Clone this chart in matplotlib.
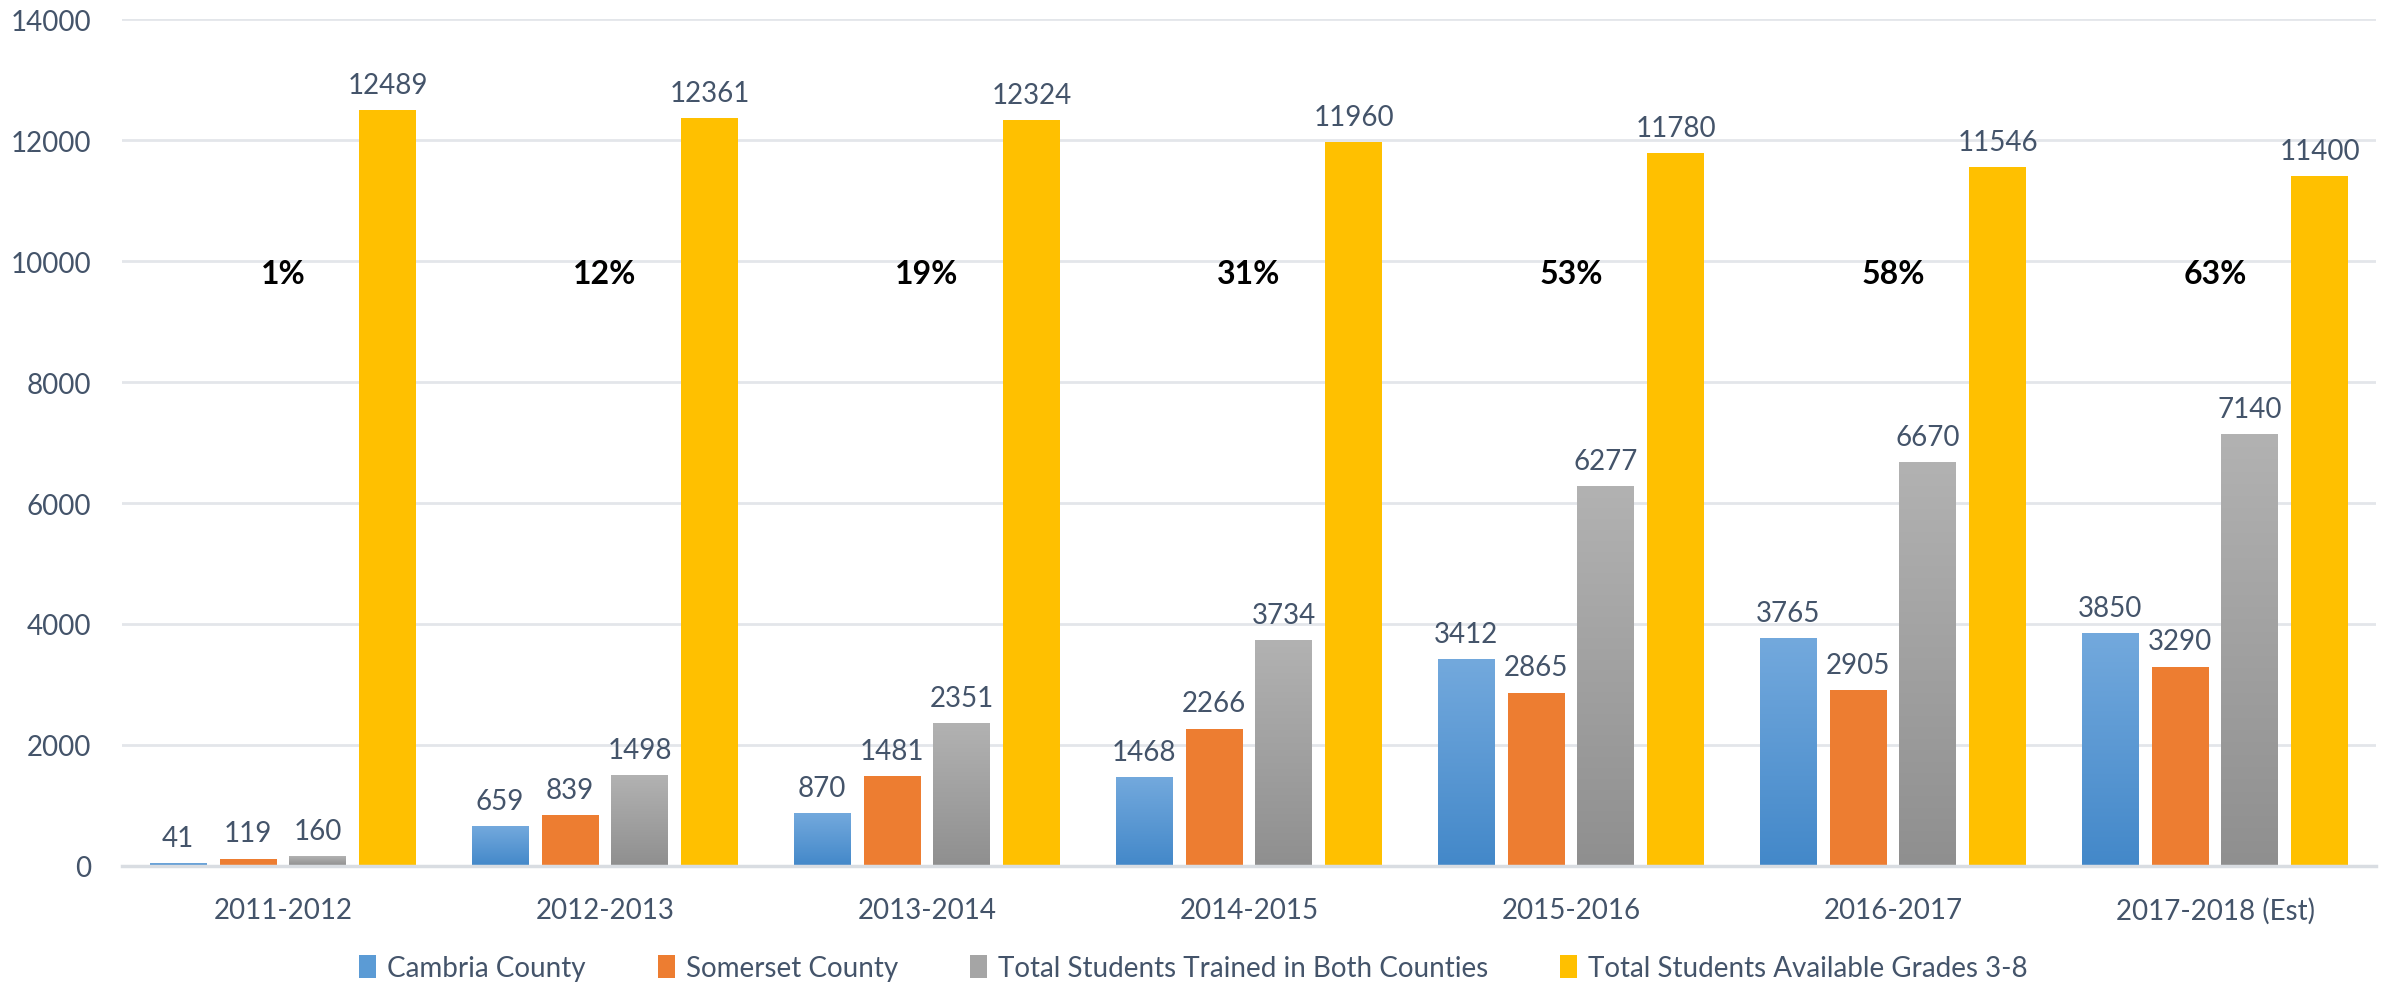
import numpy as np
import matplotlib
matplotlib.use("Agg")
import matplotlib.pyplot as plt
from matplotlib.patches import Patch
from matplotlib.colors import LinearSegmentedColormap

plt.rcParams["font.family"] = ["Lato", "DejaVu Sans"]

years = ["2011-2012", "2012-2013", "2013-2014", "2014-2015",
         "2015-2016", "2016-2017", "2017-2018 (Est)"]
cambria = [41, 659, 870, 1468, 3412, 3765, 3850]
somerset = [119, 839, 1481, 2266, 2865, 2905, 3290]
trained = [160, 1498, 2351, 3734, 6277, 6670, 7140]
available = [12489, 12361, 12324, 11960, 11780, 11546, 11400]
percents = ["1%", "12%", "19%", "31%", "53%", "58%", "63%"]

series_names = ["Cambria County", "Somerset County",
                "Total Students Trained in Both Counties",
                "Total Students Available Grades 3-8"]

text_col = "#44546A"
grid_col = "#E3E6EA"

# gradient fills (top -> bottom), plain fills for the other two
blue_grad = LinearSegmentedColormap.from_list("b", ["#4388C9", "#73A9DD"])
gray_grad = LinearSegmentedColormap.from_list("g", ["#8F8F8F", "#B2B2B2"])
orange = "#ED7D31"
yellow = "#FFC000"

fig = plt.figure(figsize=(23.87, 9.87), dpi=100)
ax = fig.add_axes([0.0511, 0.1216, 0.9443, 0.8581])

x = np.arange(len(years))
pitch = 0.217
width = 0.177
offsets = (np.arange(4) - 1.5) * pitch
grad = np.linspace(0, 1, 256).reshape(-1, 1)

all_series = [cambria, somerset, trained, available]
fills = [blue_grad, orange, gray_grad, yellow]

for vals, off, fill in zip(all_series, offsets, fills):
    if isinstance(fill, str):
        bars = ax.bar(x + off, vals, width, color=fill, zorder=2)
    else:
        bars = ax.bar(x + off, vals, width, color="none", zorder=2)
        for b in bars:
            x0 = b.get_x()
            h = b.get_height()
            ax.imshow(grad, cmap=fill, aspect="auto", origin="lower",
                      extent=[x0, x0 + width, 0, h], zorder=2)
    for xi, v in zip(x + off, vals):
        ax.annotate(str(v), xy=(xi, v), xytext=(0, 9), textcoords="offset points",
                    ha="center", va="bottom", fontsize=20, color=text_col)

for xi, p in zip(x, percents):
    ax.text(xi, 9800, p, ha="center", va="center",
            fontsize=23, fontweight="bold", color="black")

ax.set_xlim(-0.5, len(years) - 0.5)
ax.set_ylim(0, 14000)
ax.set_yticks(range(0, 14001, 2000))
ax.set_xticks(x)
ax.set_xticklabels(years)
ax.tick_params(axis="y", length=0, pad=22, labelsize=20, labelcolor=text_col)
ax.tick_params(axis="x", length=0, pad=22, labelsize=20, labelcolor=text_col)
ax.yaxis.grid(True, color=grid_col, linewidth=2, zorder=0)
ax.set_axisbelow(True)
for s in ["top", "right", "left"]:
    ax.spines[s].set_visible(False)
ax.spines["bottom"].set_color("#D9DDE2")
ax.spines["bottom"].set_linewidth(2.5)

handles = [Patch(facecolor=c) for c in ["#5B9BD5", orange, "#A5A5A5", yellow]]
fig.legend(handles, series_names, loc="lower center", ncol=4, frameon=False,
           fontsize=20, labelcolor=text_col, handlelength=0.6, handleheight=0.9,
           handletextpad=0.4, columnspacing=2.6, bbox_to_anchor=(0.5, -0.02))

fig.savefig("out.png", dpi=100)
